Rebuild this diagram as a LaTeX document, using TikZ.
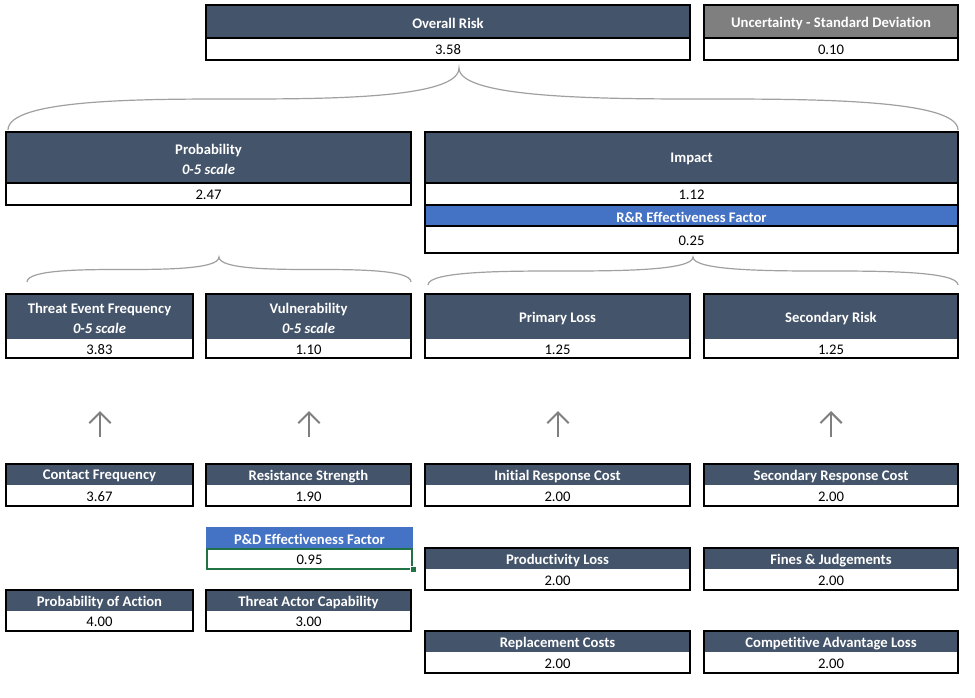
\documentclass[tikz,border=0pt]{standalone}
\usepackage{fontspec}
\setmainfont[Ligatures={NoCommon}]{Carlito}
\usetikzlibrary{arrows.meta,calc}
\definecolor{slate}{HTML}{44546A}
\definecolor{xlblue}{HTML}{4472C4}
\definecolor{xlgrey}{HTML}{7F7F7F}
\definecolor{xlgreen}{HTML}{217346}
\definecolor{bracegrey}{HTML}{A0A0A0}
\tikzset{
 hdr/.style={text=white, font=\fontsize{11}{15}\selectfont\bfseries, inner sep=0pt, align=center, yshift=-1.3pt},
 val/.style={text=black, font=\fontsize{11}{13}\selectfont, inner sep=0pt, text height=7.6pt, text depth=1.6pt, yshift=-1.2pt},
 frame/.style={draw=black, line width=1.8pt},
 divider/.style={draw=black, line width=1.6pt},
 bracestyle/.style={draw=bracegrey, line width=0.9pt},
 uparrow/.style={draw=xlgrey, line width=1.5pt, -{Straight Barb[length=8pt,width=16pt]}}
}
% #1 name, #2 x1, #3 x2, #4 ytop, #5 ymid, #6 ybot, #7 header, #8 value, #9 header fill
\newcommand\riskbox[9]{%
  \fill[#9] (#2,#4) rectangle (#3,#5);
  \fill[white] (#2,#5) rectangle (#3,#6);
  \node[hdr] (#1h) at ({(#2+#3)/2},{(#4+#5)/2}) {#7};
  \node[val] (#1v) at ({(#2+#3)/2},{(#5+#6)/2}) {#8};
  \draw[frame] (#2,#4) rectangle (#3,#6);
}
\newcommand\hdivider[3]{\draw[divider] (#1,#3) -- (#2,#3);}
% #1 left end, #2 tip, #3 right end
\newcommand\drawbrace[3]{%
 \draw[bracestyle] let \p1=(#1), \p2=(#2), \p3=(#3), \n1={0.5*(\y1+\y2)} in
 (\p1) .. controls (\x1,\n1) and ({\x1+0.3*(\x2-\x1)},\n1) .. ({0.5*(\x1+\x2)},\n1)
       .. controls ({\x2-0.3*(\x2-\x1)},\n1) and (\x2,\n1) .. (\p2)
       .. controls (\x2,\n1) and ({\x2+0.3*(\x3-\x2)},\n1) .. ({0.5*(\x2+\x3)},\n1)
       .. controls ({\x3-0.3*(\x3-\x2)},\n1) and (\x3,\n1) .. (\p3);}
\begin{document}
\begin{tikzpicture}[x=0.75pt,y=-0.75pt]
\useasboundingbox (0,0) rectangle (975,697);
\fill[white] (0,0) rectangle (975,697);

% top row
\riskbox{or}{206}{690}{5}{38}{60}{Overall Risk}{3.58}{slate}
\hdivider{206}{690}{38}
\riskbox{un}{704}{958}{5}{38}{60}{Uncertainty - Standard Deviation}{0.10}{xlgrey}
\hdivider{704}{958}{38}

% second row
\riskbox{pr}{6}{411}{132}{183}{205}{Probability\\\textit{0-5 scale}}{2.47}{slate}
\hdivider{6}{411}{183}
\fill[slate] (425,132) rectangle (958,183);
\fill[white] (425,183) rectangle (958,205);
\fill[xlblue] (425,205) rectangle (958,226);
\fill[white] (425,226) rectangle (958,253);
\node[hdr] (imh) at (691.5,157.5) {Impact};
\node[val] (imv) at (691.5,194) {1.12};
\node[hdr] (rrh) at (691.5,215.5) {R\&R Effectiveness Factor};
\node[val] (rrv) at (691.5,239.5) {0.25};
\draw[frame] (425,132) rectangle (958,253);
\hdivider{425}{958}{183}
\hdivider{425}{958}{205}
\hdivider{425}{958}{226}

% third row
\riskbox{tef}{6}{193}{294}{339}{358}{Threat Event Frequency\\\textit{0-5 scale}}{3.83}{slate}
\riskbox{vu}{206}{411}{294}{339}{358}{Vulnerability\\\textit{0-5 scale}}{1.10}{slate}
\riskbox{pl}{425}{690}{294}{339}{358}{Primary Loss}{1.25}{slate}
\riskbox{sr}{704}{958}{294}{339}{358}{Secondary Risk}{1.25}{slate}

% braces
\coordinate (b1l) at (8,130);
\coordinate (b1t) at (459,68);
\coordinate (b1r) at (958,130);
\drawbrace{b1l}{b1t}{b1r}
\coordinate (b2l) at (27,282);
\coordinate (b2t) at (219,257);
\coordinate (b2r) at (411,282);
\drawbrace{b2l}{b2t}{b2r}
\coordinate (b3l) at (428,285);
\coordinate (b3t) at (693,257);
\coordinate (b3r) at (958,285);
\drawbrace{b3l}{b3t}{b3r}

% arrows
\foreach \i/\x in {1/100,2/309,3/558,4/831}{
  \coordinate (a\i s) at (\x,437);
  \coordinate (a\i e) at (\x,411);
  \draw[uparrow] (a\i s) -- (a\i e);
}

% fourth row
\riskbox{cf}{6}{193}{464}{485}{506}{Contact Frequency}{3.67}{slate}
\riskbox{rs}{206}{411}{464}{485}{506}{Resistance Strength}{1.90}{slate}
\riskbox{irc}{425}{690}{464}{485}{506}{Initial Response Cost}{2.00}{slate}
\riskbox{src}{704}{958}{464}{485}{506}{Secondary Response Cost}{2.00}{slate}

% P&D factor
\fill[xlblue] (206,527) rectangle (413,548);
\node[hdr] (pdh) at (309.5,537.5) {P\&D Effectiveness Factor};
\node[val] (pdv) at (309.5,558.5) {0.95};
\draw[draw=xlgreen, line width=1.5pt] (207,548.5) rectangle (412,569);
\fill[xlgreen, draw=white, line width=0.5pt] (410,566) rectangle (416,572);

% lower rows
\riskbox{plo}{425}{690}{548}{569}{590}{Productivity Loss}{2.00}{slate}
\riskbox{fj}{704}{958}{548}{569}{590}{Fines \& Judgements}{2.00}{slate}
\riskbox{poa}{6}{193}{590}{611}{631}{Probability of Action}{4.00}{slate}
\riskbox{tac}{206}{411}{590}{611}{631}{Threat Actor Capability}{3.00}{slate}
\riskbox{rc}{425}{690}{631}{652}{673}{Replacement Costs}{2.00}{slate}
\riskbox{cal}{704}{958}{631}{652}{673}{Competitive Advantage Loss}{2.00}{slate}
\end{tikzpicture}
\end{document}
